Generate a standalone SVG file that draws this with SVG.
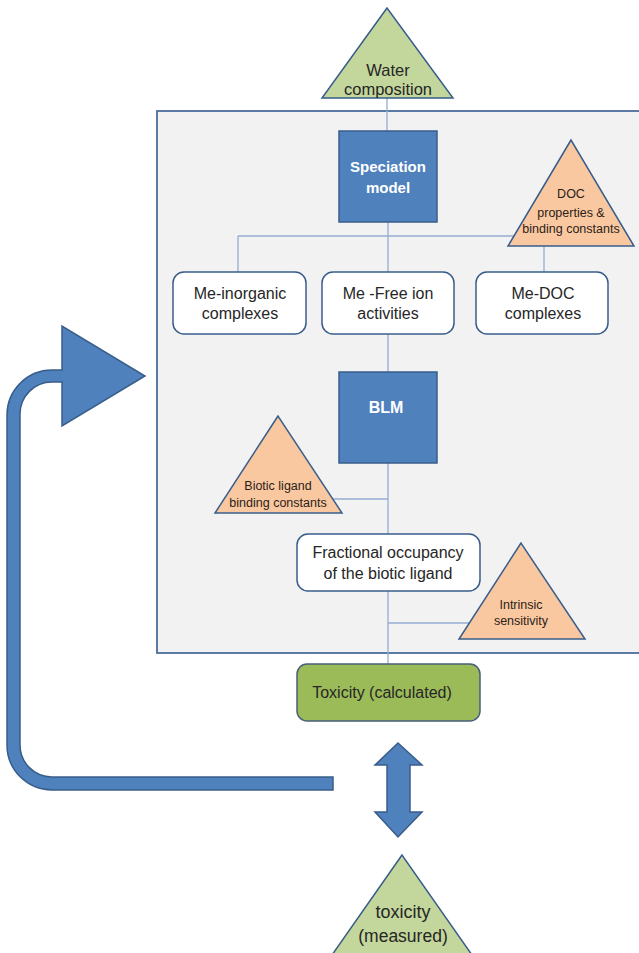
<svg xmlns="http://www.w3.org/2000/svg" width="639" height="953" viewBox="0 0 639 953">
<style>
  text { font-family: "Liberation Sans", Arial, sans-serif; fill: #262626; text-anchor: middle; }
  .conn { stroke: #95acd0; stroke-width: 1.3; fill: none; }
  .blue { fill: #4F81BD; stroke: #385D8A; stroke-width: 1.5; }
  .wbox { fill: #ffffff; stroke: #385D8A; stroke-width: 1.5; }
  .gtri { fill: #C3D69B; stroke: #385D8A; stroke-width: 1.5; }
  .otri { fill: #FAC8A0; stroke: #385D8A; stroke-width: 1.5; }
  .wt { fill: #ffffff; font-weight: bold; }
  .box { font-size: 16px; }
  .small { font-size: 12.5px; fill: #2b2118; }
</style>
<rect x="0" y="0" width="639" height="953" fill="#ffffff"/>
<g id="panel">
  <rect x="157" y="111" width="500" height="542" fill="#F2F2F2" stroke="#4a6d9c" stroke-width="1.8"/>
</g>
<g id="connectors">
  <line class="conn" x1="387" y1="98" x2="387" y2="131"/>
  <line class="conn" x1="388" y1="222" x2="388" y2="272"/>
  <line class="conn" x1="238" y1="236" x2="514" y2="236"/>
  <line class="conn" x1="238" y1="236" x2="238" y2="272"/>
  <line class="conn" x1="544" y1="246" x2="544" y2="272"/>
  <line class="conn" x1="388" y1="334" x2="388" y2="372"/>
  <line class="conn" x1="388" y1="463" x2="388" y2="534"/>
  <line class="conn" x1="331" y1="499" x2="388" y2="499"/>
  <line class="conn" x1="388" y1="591" x2="388" y2="664"/>
  <line class="conn" x1="388" y1="623" x2="470" y2="623"/>
</g>
<g id="water-composition">
  <polygon class="gtri" points="387,8 322,98 453,98"/>
  <text x="388" y="76" font-size="16.5">Water</text>
  <text x="388" y="95" font-size="16.5">composition</text>
</g>
<g id="speciation-model">
  <rect class="blue" x="339" y="131" width="98" height="91"/>
  <text class="wt" x="388" y="172" font-size="15">Speciation</text>
  <text class="wt" x="388" y="193" font-size="15">model</text>
</g>
<g id="doc-properties">
  <polygon class="otri" points="571,140 508,246 634,246"/>
  <text class="small" x="571" y="198" font-size="12.5">DOC</text>
  <text class="small" x="571" y="217" font-size="12.5">properties &amp;</text>
  <text class="small" x="571" y="233" font-size="12.5">binding constants</text>
</g>
<g id="me-inorganic">
  <rect class="wbox" x="173" y="272" width="133" height="62" rx="11"/>
  <text class="box" x="240" y="299">Me-inorganic</text>
  <text class="box" x="240" y="319">complexes</text>
</g>
<g id="me-free-ion">
  <rect class="wbox" x="322" y="272" width="132" height="62" rx="11"/>
  <text class="box" x="388" y="299">Me -Free ion</text>
  <text class="box" x="388" y="319">activities</text>
</g>
<g id="me-doc">
  <rect class="wbox" x="476" y="272" width="132" height="62" rx="11"/>
  <text class="box" x="543" y="299">Me-DOC</text>
  <text class="box" x="543" y="319">complexes</text>
</g>
<g id="blm">
  <rect class="blue" x="339" y="372" width="98" height="91"/>
  <text class="wt" x="386" y="413" font-size="16">BLM</text>
</g>
<g id="biotic-ligand-constants">
  <polygon class="otri" points="278,416 215,513 342,513"/>
  <text class="small" x="278" y="490">Biotic ligand</text>
  <text class="small" x="278" y="507">binding constants</text>
</g>
<g id="fractional-occupancy">
  <rect class="wbox" x="297" y="534" width="183" height="57" rx="11"/>
  <text class="box" x="388" y="558">Fractional occupancy</text>
  <text class="box" x="388" y="579">of the biotic ligand</text>
</g>
<g id="intrinsic-sensitivity">
  <polygon class="otri" points="521,543 459,639 585,639"/>
  <text class="small" x="521" y="609" font-size="12">Intrinsic</text>
  <text class="small" x="521" y="625" font-size="12">sensitivity</text>
</g>
<g id="toxicity-calculated">
  <rect x="297" y="664" width="183" height="57" rx="10" fill="#9BBB59" stroke="#4a5f7a" stroke-width="1.5"/>
  <text class="box" x="382" y="698">Toxicity (calculated)</text>
</g>
<g id="feedback-arrow">
  <path class="blue" d="M 333 777 L 52 777 A 32 32 0 0 1 20 745 L 20 414 A 32 32 0 0 1 52 382 L 62 382 L 62 426 L 145 376 L 62 326 L 62 370 L 52 370 A 45 45 0 0 0 7 415 L 7 745 A 45 45 0 0 0 52 790 L 333 790 Z"/>
</g>
<g id="compare-arrow">
  <path class="blue" d="M 398 743 L 422 765 L 410 765 L 410 812 L 422 812 L 398 837 L 375 812 L 387 812 L 387 765 L 375 765 Z"/>
</g>
<g id="toxicity-measured">
  <polygon class="gtri" points="402,855 325,965 479,965"/>
  <text x="403" y="918" font-size="18">toxicity</text>
  <text x="403" y="942" font-size="17.5">(measured)</text>
</g>
</svg>
